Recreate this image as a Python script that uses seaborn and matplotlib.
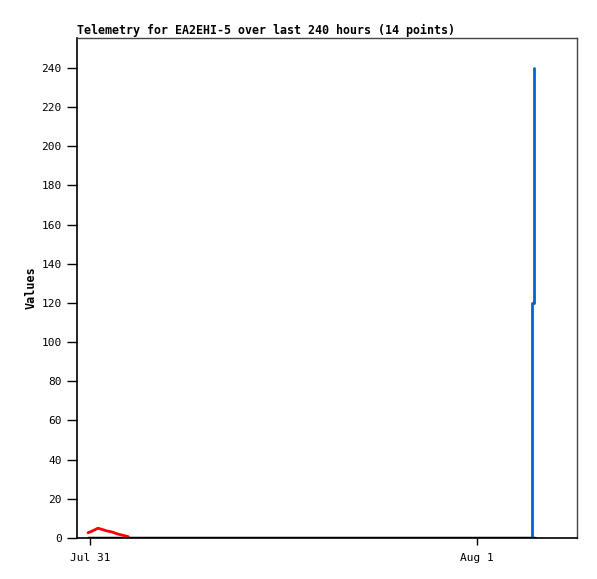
import matplotlib
matplotlib.use("Agg")
import matplotlib.pyplot as plt
import seaborn as sns
import pandas as pd
import numpy as np

sns.set_style('ticks')
plt.rcParams['font.family'] = ['DejaVu Sans Mono']
plt.rcParams['text.color'] = 'black'
plt.rcParams['axes.labelcolor'] = 'black'
plt.rcParams['xtick.color'] = 'black'
plt.rcParams['ytick.color'] = 'black'

start = pd.Timestamp('2023-07-31 00:00')

# hours after Jul 31 00:00
red_hours = [-0.12, 0.04, 0.5, 0.74, 1.04, 1.35, 1.66, 1.97, 2.37]
red_values = [2.7, 3.2, 5.0, 4.4, 3.6, 3.1, 2.2, 1.5, 0.7]

black_hours = [-0.12, 27.6]
black_values = [0, 0]

blue_hours = [27.43, 27.43, 27.52, 27.52]
blue_values = [0, 120, 120, 240]

def frame(hours, values):
    return pd.DataFrame({'time': start + pd.to_timedelta(hours, unit='h'),
                         'value': values})

fig = plt.figure(figsize=(5.97, 5.79), dpi=100)
ax = fig.add_axes([0.129, 0.0708, 0.8375, 0.8636])

sns.lineplot(data=frame(black_hours, black_values), x='time', y='value',
             color='black', linewidth=2.5, ax=ax, sort=False, estimator=None)
sns.lineplot(data=frame(red_hours, red_values), x='time', y='value',
             color='#ff0000', linewidth=2, ax=ax, sort=False, estimator=None)
sns.lineplot(data=frame(blue_hours, blue_values), x='time', y='value',
             color='#0066cc', linewidth=2, ax=ax, sort=False, estimator=None)

ax.set_xlim(start - pd.Timedelta(hours=0.806), start + pd.Timedelta(hours=30.2))
ax.set_ylim(0, 255.3)
ax.set_yticks(np.arange(0, 241, 20))
ax.set_xticks([start, start + pd.Timedelta(days=1)])
ax.set_xticklabels(['Jul 31', 'Aug 1'])
ax.tick_params(axis='both', labelsize=8, length=7, width=1, color='black', direction='out')
ax.tick_params(axis='x', length=5, pad=6)
ax.tick_params(axis='y', pad=4)

for s in ['left', 'bottom']:
    ax.spines[s].set_color('black')
    ax.spines[s].set_linewidth(1.2)
for s in ['top', 'right']:
    ax.spines[s].set_visible(True)
    ax.spines[s].set_color('#444444')
    ax.spines[s].set_linewidth(1)

ax.set_xlabel('')
ax.set_ylabel('Values', fontsize=8.5, fontweight='bold', labelpad=3)
ax.set_title('Telemetry for EA2EHI-5 over last 240 hours (14 points)',
             fontsize=8.35, fontweight='bold', loc='left', pad=3)

fig.savefig('out.png', dpi=100)
